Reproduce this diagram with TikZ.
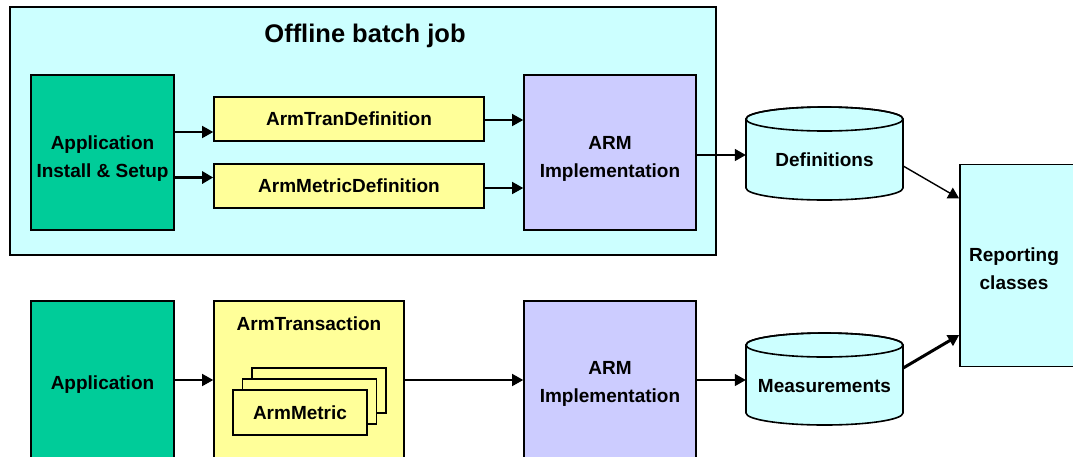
\documentclass[tikz,border=0pt]{standalone}
\usepackage{fontspec}
\setmainfont{Liberation Sans}
\usetikzlibrary{arrows.meta}

\definecolor{paleCyan}{HTML}{CCFFFF}
\definecolor{seaGreen}{HTML}{00CC99}
\definecolor{paleYellow}{HTML}{FFFF99}
\definecolor{lavender}{HTML}{CCCCFF}

\newcommand{\boxfont}{\fontsize{19}{28}\selectfont\bfseries}
\newcommand{\titlefont}{\fontsize{25.5}{30}\selectfont\bfseries}

\tikzset{
  blockbox/.style={draw=black, line width=1.6pt, inner sep=0pt, align=center, font=\boxfont},
  appbox/.style={blockbox, fill=seaGreen, minimum width=143pt, minimum height=155pt},
  classbox/.style={blockbox, fill=paleYellow},
  armbox/.style={blockbox, fill=lavender, minimum width=172pt, minimum height=155pt},
  flow/.style={line width=1.4pt, -{Triangle[length=11pt,width=12pt]}},
  heavyflow/.style={line width=3pt, -{Triangle[length=11pt,width=12pt]}},
  drum/.style={draw=black, line width=1.6pt, fill=paleCyan},
  plain/.style={inner sep=0pt, align=center, font=\boxfont}
}

\begin{document}
\begin{tikzpicture}[x=1pt, y=-1pt]
  \path[use as bounding box] (0,0) rectangle (1073,456);
  \clip (0,0) rectangle (1073,456);
  \fill[white] (0,0) rectangle (1073,456);

  % batch job frame
  \node[draw=black, line width=1.6pt, fill=paleCyan, minimum width=706pt, minimum height=248pt, inner sep=0pt]
    (batch) at (363,131) {};
  \node[plain, font=\titlefont] (title) at (365,36) {Offline batch job};

  % batch job contents
  \node[appbox] (setup) at (102.5,152.5) {};
  \node[plain] (setupname) at (102.5,159) {Application\\Install \& Setup};
  \node[classbox, minimum width=270pt, minimum height=44pt] (trandef) at (349,119) {ArmTranDefinition};
  \node[classbox, minimum width=270pt, minimum height=44pt] (metdef) at (349,186) {ArmMetricDefinition};
  \node[armbox] (armA) at (610,152.5) {};
  \node[plain] (armAname) at (610,159) {ARM\\Implementation};

  \draw[flow] (setup.east |- 0,132) -- (trandef.west |- 0,132);
  \draw[heavyflow] (setup.east |- 0,177.5) -- (metdef.west |- 0,177.5);
  \draw[flow] (trandef.east |- 0,120) -- (armA.west |- 0,120);
  \draw[flow] (metdef.east |- 0,188) -- (armA.west |- 0,188);

  % runtime row
  \node[appbox, minimum height=170pt] (app) at (102.5,386) {};
  \node[plain] (appname) at (102.5,385) {Application};
  \node[classbox, minimum width=190pt, minimum height=170pt] (trans) at (309,386) {};
  \node[plain] (transname) at (309,323.5) {ArmTransaction};
  \node[classbox, minimum width=134pt, minimum height=45pt] (metC) at (319,390.5) {};
  \node[classbox, minimum width=134pt, minimum height=45pt] (metB) at (309.5,401.5) {};
  \node[classbox, minimum width=134pt, minimum height=45pt] (metA) at (300,412.5) {ArmMetric};
  \node[armbox, minimum height=170pt] (armB) at (610,386) {};
  \node[plain] (armBname) at (610,383.5) {ARM\\Implementation};

  \draw[flow] (app.east |- 0,380) -- (trans.west |- 0,380);
  \draw[flow] (trans.east |- 0,380) -- (armB.west |- 0,380);

  % data stores
  \draw[drum] (746,119) -- (746,188) arc[start angle=180, end angle=0, x radius=78.5, y radius=12]
    -- (903,119) arc[start angle=0, end angle=-180, x radius=78.5, y radius=12] -- cycle;
  \draw[line width=1.6pt] (824.5,119) ellipse[x radius=78.5, y radius=12];
  \node[plain, minimum width=157pt, minimum height=60pt] (defs) at (824.5,160) {Definitions};

  \draw[drum] (746,345) -- (746,413) arc[start angle=180, end angle=0, x radius=78.5, y radius=12]
    -- (903,345) arc[start angle=0, end angle=-180, x radius=78.5, y radius=12] -- cycle;
  \draw[line width=1.6pt] (824.5,345) ellipse[x radius=78.5, y radius=12];
  \node[plain, minimum width=157pt, minimum height=60pt] (meas) at (824.5,386) {Measurements};

  \draw[flow] (armA.east |- 0,155) -- (defs.west |- 0,155);
  \draw[flow] (armB.east |- 0,380) -- (meas.west |- 0,380);

  % reporting
  \node[blockbox, fill=paleCyan, minimum width=200pt, minimum height=202pt] (report) at (1060,265.5) {};
  \node[plain] (reportname) at (1014,269) {Reporting\\classes};

  \draw[flow] (defs.east |- 0,166) -- (report.west |- 0,198.5);
  \draw[heavyflow] (meas.east |- 0,368) -- (report.west |- 0,335);
\end{tikzpicture}
\end{document}
